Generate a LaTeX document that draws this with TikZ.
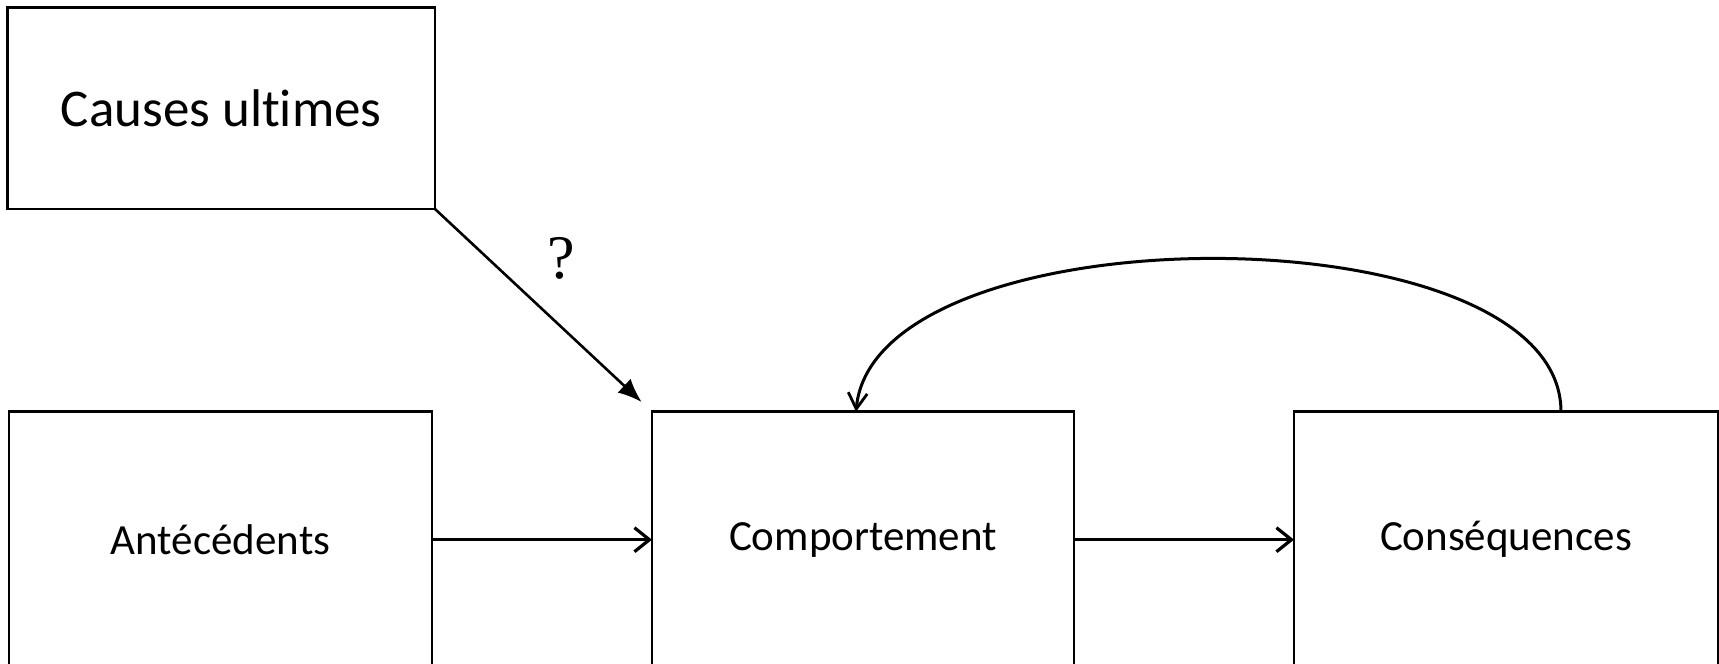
\documentclass[tikz,border=0pt]{standalone}
\usepackage{fontspec}
\setmainfont[Ligatures={NoCommon}]{Carlito}
\newfontfamily\qfont{Liberation Serif}
\usetikzlibrary{arrows.meta}
\begin{document}
\begin{tikzpicture}[x=1pt,y=-1pt,
  box/.style={draw,line width=2.6pt,inner sep=0pt,outer sep=0pt},
  lbl/.style={font=\fontsize{43}{50}\selectfont},
  biglbl/.style={font=\fontsize{53}{60}\selectfont},
  conn/.style={line width=3.2pt,-{Straight Barb[length=15pt,width=24pt,line width=3.2pt]}}]
\useasboundingbox (0,0) rectangle (1719,664);
\node[box,biglbl,minimum width=427.5pt,minimum height=201.5pt] (causes) at (221.25,108.25) {Causes ultimes};
\node[box,lbl,minimum width=423pt,minimum height=256pt] (ant) at (220.5,539.7) {Antécédents};
\node[box,lbl,minimum width=422pt,minimum height=256pt] (comp) at (863,539.7) {Comportement};
\node[box,lbl,minimum width=424pt,minimum height=256pt] (cons) at (1506,539.7) {Conséquences};
\draw[conn] (ant.east) -- (comp.west);
\draw[conn] (comp.east) -- (cons.west);
\draw[line width=2.6pt,shorten >=14pt,-{Latex[length=24pt,width=19pt]}] (causes.south east) -- (comp.north west);
\node[font=\qfont\fontsize{62}{68}\selectfont] (q) at (561,258) {?};
\draw[line width=3pt,-{Straight Barb[length=16pt,width=19pt,line width=2.8pt]}] ([xshift=55pt]cons.north) .. controls (1561,208) and (875,208) .. ([xshift=-7pt]comp.north);
\end{tikzpicture}
\end{document}
